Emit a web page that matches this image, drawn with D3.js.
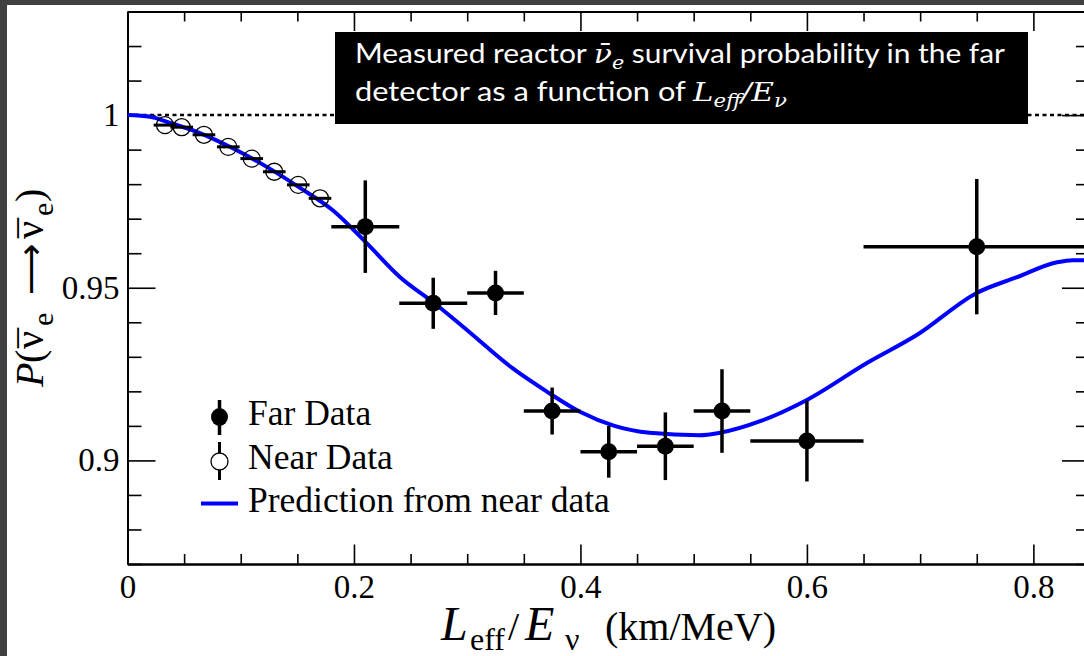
<!DOCTYPE html>
<html><head><meta charset="utf-8">
<script src="https://cdn.jsdelivr.net/npm/d3@7"></script>
<style>body{margin:0;background:#fff;} svg{display:block;}</style>
</head><body>
<svg id="chart" width="1084" height="656"></svg>
<script>
// ---- data ----
const predX = [0, 0.02, 0.035, 0.064, 0.093, 0.123, 0.152, 0.181, 0.211, 0.241, 0.270, 0.300, 0.340, 0.370, 0.400, 0.430, 0.461, 0.505, 0.523, 0.560, 0.600, 0.653, 0.697, 0.750, 0.785, 0.821, 0.835, 0.85];
const predY = [1.0, 0.9995, 0.998, 0.9948, 0.9904, 0.985, 0.979, 0.9725, 0.9630, 0.953, 0.9458, 0.9377, 0.9267, 0.920, 0.914, 0.910, 0.908, 0.9073, 0.908, 0.9115, 0.9175, 0.9282, 0.9363, 0.9485, 0.953, 0.9574, 0.958, 0.958];

const farX    = [0.21, 0.27, 0.325, 0.375, 0.425, 0.475, 0.525, 0.60, 0.75];
const farXErr = [0.03, 0.03, 0.025, 0.025, 0.025, 0.025, 0.025, 0.05, 0.10];
const farY    = [0.9677, 0.9455, 0.9485, 0.9143, 0.9025, 0.9041, 0.9143, 0.9056, 0.9619];
const farYErr = [0.0134, 0.0074, 0.0064, 0.0068, 0.0075, 0.0098, 0.0121, 0.0117, 0.0196];

const nearX    = [0.0331, 0.0479, 0.0675, 0.089, 0.1097, 0.1296, 0.1508, 0.170];
const nearXErr = [0.01, 0.01, 0.01, 0.01, 0.01, 0.01, 0.01, 0.01];
const nearY    = [0.9971, 0.9965, 0.9943, 0.9908, 0.9874, 0.9836, 0.9798, 0.9759];

const xMajorTicks = [0, 0.2, 0.4, 0.6, 0.8];
const xTickLabels = ["0", "0.2", "0.4", "0.6", "0.8"];
const yMajorTicks = [0.9, 0.95, 1.0];
const yTickLabels = ["0.9", "0.95", "1"];
const legendLabels = ["Far Data", "Near Data", "Prediction from near data"];

// ---- drawing ----
const svg = d3.select('#chart');
svg.append('rect').attr('width', 1084).attr('height', 656).attr('fill', '#404040');
svg.append('rect').attr('x', 7).attr('y', 5).attr('width', 1077).attr('height', 651).attr('fill', '#fff');

const x = d3.scaleLinear().domain([0, 0.85]).range([127.5, 1090]);
const y = d3.scaleLinear().domain([0.87, 1.03]).range([564, 11.5]);

const xMinor = d3.range(0, 0.851, 0.05).map(v => +v.toFixed(2)).filter(v => !xMajorTicks.includes(v));
const yMinor = d3.range(0.87, 1.0301, 0.01).map(v => +v.toFixed(2)).filter(v => !yMajorTicks.includes(v));

const serif = "'Liberation Serif','Times New Roman',serif";

function styleAxis(g) {
  g.selectAll('.domain').attr('stroke', '#000').attr('stroke-width', 2);
  g.selectAll('.tick line').attr('stroke', '#000').attr('stroke-width', 1.6);
  g.selectAll('text').attr('font-family', serif).attr('font-size', 33).attr('fill', '#000');
}

// bottom axis
svg.append('g').attr('transform', 'translate(0,564)')
  .call(d3.axisBottom(x).tickValues(xMinor).tickSizeInner(-10).tickSizeOuter(0).tickFormat(''))
  .call(styleAxis);
svg.append('g').attr('transform', 'translate(0,564)')
  .call(d3.axisBottom(x).tickValues(xMajorTicks).tickSizeInner(-19.5).tickSizeOuter(0).tickPadding(11)
    .tickFormat((d, i) => xTickLabels[i]))
  .call(styleAxis);
// top axis
svg.append('g').attr('transform', 'translate(0,11.5)')
  .call(d3.axisTop(x).tickValues(xMinor).tickSizeInner(-10).tickSizeOuter(0).tickFormat(''))
  .call(styleAxis);
svg.append('g').attr('transform', 'translate(0,11.5)')
  .call(d3.axisTop(x).tickValues(xMajorTicks).tickSizeInner(-19.5).tickSizeOuter(0).tickFormat(''))
  .call(styleAxis);
// left axis
svg.append('g').attr('transform', 'translate(127.5,0)')
  .call(d3.axisLeft(y).tickValues(yMinor).tickSizeInner(-14).tickSizeOuter(0).tickFormat(''))
  .call(styleAxis);
svg.append('g').attr('transform', 'translate(127.5,0)')
  .call(d3.axisLeft(y).tickValues(yMajorTicks).tickSizeInner(-28).tickSizeOuter(0).tickPadding(8)
    .tickFormat((d, i) => yTickLabels[i]))
  .call(styleAxis);
// right axis
svg.append('g').attr('transform', 'translate(1090,0)')
  .call(d3.axisRight(y).tickValues(yMinor).tickSizeInner(-14).tickSizeOuter(0).tickFormat(''))
  .call(styleAxis);
svg.append('g').attr('transform', 'translate(1090,0)')
  .call(d3.axisRight(y).tickValues(yMajorTicks).tickSizeInner(-28).tickSizeOuter(0).tickFormat(''))
  .call(styleAxis);

// dotted reference line at P = 1
svg.append('line')
  .attr('x1', x(0)).attr('x2', x(0.85)).attr('y1', y(1)).attr('y2', y(1))
  .attr('stroke', '#000').attr('stroke-width', 2.5).attr('stroke-dasharray', '4,3.5');

// prediction curve
const pred = predX.map((v, i) => [v, predY[i]]);
svg.append('path').datum(pred)
  .attr('d', d3.line().x(d => x(d[0])).y(d => y(d[1])).curve(d3.curveMonotoneX))
  .attr('fill', 'none').attr('stroke', '#0000ff').attr('stroke-width', 4);

// near data
const near = nearX.map((v, i) => ({x: v, xe: nearXErr[i], y: nearY[i]}));
const ng = svg.append('g');
ng.selectAll('line.ne').data(near).join('line')
  .attr('x1', d => x(d.x - d.xe)).attr('x2', d => x(d.x + d.xe))
  .attr('y1', d => y(d.y)).attr('y2', d => y(d.y))
  .attr('stroke', '#000').attr('stroke-width', 3);
ng.selectAll('circle').data(near).join('circle')
  .attr('cx', d => x(d.x)).attr('cy', d => y(d.y)).attr('r', 8.5)
  .attr('fill', 'none').attr('stroke', '#000').attr('stroke-width', 1.3);

// far data
const far = farX.map((v, i) => ({x: v, xe: farXErr[i], y: farY[i], ye: farYErr[i]}));
const fg = svg.append('g');
fg.selectAll('line.h').data(far).join('line').attr('class', 'h')
  .attr('x1', d => x(d.x - d.xe)).attr('x2', d => x(d.x + d.xe))
  .attr('y1', d => y(d.y)).attr('y2', d => y(d.y))
  .attr('stroke', '#000').attr('stroke-width', 3.5);
fg.selectAll('line.v').data(far).join('line').attr('class', 'v')
  .attr('x1', d => x(d.x)).attr('x2', d => x(d.x))
  .attr('y1', d => y(d.y - d.ye)).attr('y2', d => y(d.y + d.ye))
  .attr('stroke', '#000').attr('stroke-width', 3.5);
fg.selectAll('circle').data(far).join('circle')
  .attr('cx', d => x(d.x)).attr('cy', d => y(d.y)).attr('r', 8.5).attr('fill', '#000');

// legend
const lg = svg.append('g');
lg.append('line').attr('x1', 219.5).attr('x2', 219.5).attr('y1', 400).attr('y2', 435).attr('stroke', '#000').attr('stroke-width', 3.5);
lg.append('ellipse').attr('cx', 219.5).attr('cy', 417).attr('rx', 8.5).attr('ry', 9).attr('fill', '#000');
lg.append('line').attr('x1', 219.5).attr('x2', 219.5).attr('y1', 442).attr('y2', 480).attr('stroke', '#000').attr('stroke-width', 3);
lg.append('circle').attr('cx', 219.5).attr('cy', 461.5).attr('r', 8.5).attr('fill', '#fff').attr('stroke', '#000').attr('stroke-width', 1.3);
lg.append('line').attr('x1', 201).attr('x2', 238).attr('y1', 503.5).attr('y2', 503.5).attr('stroke', '#0000ff').attr('stroke-width', 4);
const legY = [425, 468.5, 511.5];
lg.selectAll('text').data(legendLabels).join('text')
  .attr('x', 248).attr('y', (d, i) => legY[i])
  .attr('font-family', serif).attr('font-size', 35.5).attr('fill', '#000')
  .text(d => d);

// x axis title
const xt = svg.append('text').attr('y', 640)
  .attr('font-family', serif).attr('font-size', 40).attr('fill', '#000');
xt.append('tspan').attr('x', 441).attr('font-style', 'italic').attr('font-size', 48).text('L');
xt.append('tspan').attr('x', 470).attr('font-size', 32).attr('dy', 10).text('eff');
xt.append('tspan').attr('x', 508).attr('dy', -10).text('/');
xt.append('tspan').attr('x', 525).attr('font-style', 'italic').attr('font-size', 48).text('E');
xt.append('tspan').attr('x', 565).attr('font-size', 32).attr('dy', 10).text('ν');
xt.append('tspan').attr('x', 605).attr('dy', -10).text('(km/MeV)');

// y axis title (rotated)
const yt = svg.append('text').attr('transform', 'translate(43,0) rotate(-90)')
  .attr('font-family', serif).attr('font-size', 40).attr('fill', '#000');
yt.append('tspan').attr('x', -387).attr('font-style', 'italic').text('P');
yt.append('tspan').attr('x', -363).text('(');
yt.append('tspan').attr('x', -349).text('ν');
yt.append('tspan').attr('x', -348).attr('dy', 5).text('\u00AF');
yt.append('tspan').attr('x', -326).attr('font-size', 30).attr('dy', 5).text('e');
yt.append('tspan').attr('x', -295).attr('dy', -10).attr('font-family', "'DejaVu Sans',sans-serif").attr('font-size', 36).text('\u27F6');
yt.append('tspan').attr('x', -239).text('ν');
yt.append('tspan').attr('x', -238).attr('dy', 5).text('\u00AF');
yt.append('tspan').attr('x', -216).attr('font-size', 30).attr('dy', 5).text('e');
yt.append('tspan').attr('x', -202).attr('dy', -10).text(')');

// annotation box
svg.append('rect').attr('x', 335).attr('y', 32).attr('width', 693).attr('height', 92).attr('fill', '#000');
const boxFont = "'Lato','Open Sans',sans-serif";
const mathFont = "'DejaVu Serif','Liberation Serif',serif";
const t1 = svg.append('text').attr('x', 355).attr('y', 63).attr('font-family', boxFont).attr('font-size', 26)
  .attr('fill', '#fff').attr('textLength', 650).attr('lengthAdjust', 'spacingAndGlyphs');
t1.append('tspan').text('Measured reactor ');
t1.append('tspan').attr('font-family', mathFont).attr('font-style', 'italic').text('ν\u0304');
t1.append('tspan').attr('font-family', mathFont).attr('font-style', 'italic').attr('font-size', 18).attr('dy', 6).text('e');
t1.append('tspan').attr('dy', -6).text(' survival probability in the far');
const t2 = svg.append('text').attr('x', 355).attr('y', 101).attr('font-family', boxFont).attr('font-size', 26)
  .attr('fill', '#fff').attr('textLength', 432).attr('lengthAdjust', 'spacingAndGlyphs');
t2.append('tspan').text('detector as a function of ');
t2.append('tspan').attr('font-family', mathFont).attr('font-style', 'italic').text('L');
t2.append('tspan').attr('font-family', mathFont).attr('font-style', 'italic').attr('font-size', 18).attr('dy', 6).text('eff');
t2.append('tspan').attr('font-family', mathFont).attr('font-style', 'italic').attr('dy', -6).text('/E');
t2.append('tspan').attr('font-family', mathFont).attr('font-style', 'italic').attr('font-size', 18).attr('dy', 6).text('ν');
</script>
</body></html>
